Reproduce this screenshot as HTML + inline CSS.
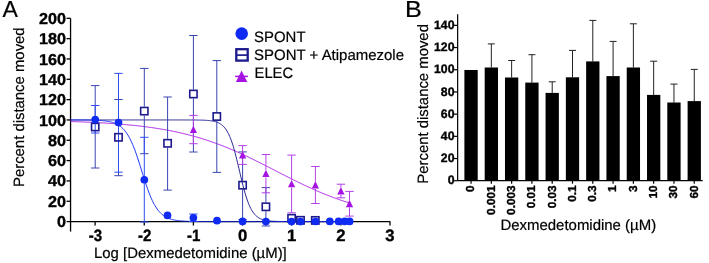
<!DOCTYPE html>
<html><head><meta charset="utf-8"><style>html,body{margin:0;padding:0;background:#fff;width:709px;height:263px;overflow:hidden;position:relative}</style></head>
<body>
<svg width="709" height="263" viewBox="0 0 709 263" style="position:absolute;left:0;top:0;will-change:transform" text-rendering="geometricPrecision">
<rect width="709" height="263" fill="#fff"/>
<text transform="translate(2.60,17.10) scale(0.995,1)" text-anchor="start" font-family="Liberation Sans, sans-serif" stroke="#000" stroke-width="0.2" stroke-linejoin="round" font-size="23.2" fill="#000">A</text>
<text transform="translate(405.10,17.00) scale(1.09,1)" text-anchor="start" font-family="Liberation Sans, sans-serif" stroke="#000" stroke-width="0.2" stroke-linejoin="round" font-size="23.1" fill="#000">B</text>
<text transform="translate(24.10,107.20) rotate(-90) scale(0.992,1)" text-anchor="middle" font-family="Liberation Sans, sans-serif" stroke="#000" stroke-width="0.2" stroke-linejoin="round" font-size="15" fill="#000">Percent distance moved</text>
<text transform="translate(427.50,103.90) rotate(-90) scale(0.992,1)" text-anchor="middle" font-family="Liberation Sans, sans-serif" stroke="#000" stroke-width="0.2" stroke-linejoin="round" font-size="15" fill="#000">Percent distance moved</text>
<text transform="translate(94.00,257.60) scale(0.995,1)" text-anchor="start" font-family="Liberation Sans, sans-serif" stroke="#000" stroke-width="0.2" stroke-linejoin="round" font-size="15" fill="#000">Log [Dexmedetomidine (µM)]</text>
<text transform="translate(500.40,229.90) scale(0.997,1)" text-anchor="start" font-family="Liberation Sans, sans-serif" stroke="#000" stroke-width="0.2" stroke-linejoin="round" font-size="15" fill="#000">Dexmedetomidine (µM)</text>
<g stroke="#000" stroke-width="1.3" fill="none">
<line x1="70.55" y1="18.3" x2="70.55" y2="231.6"/>
<line x1="70.55" y1="221.6" x2="390.2" y2="221.6"/>
<line x1="66.55" y1="221.60" x2="70.55" y2="221.60"/>
<line x1="66.55" y1="201.27" x2="70.55" y2="201.27"/>
<line x1="66.55" y1="180.94" x2="70.55" y2="180.94"/>
<line x1="66.55" y1="160.61" x2="70.55" y2="160.61"/>
<line x1="66.55" y1="140.28" x2="70.55" y2="140.28"/>
<line x1="66.55" y1="119.95" x2="70.55" y2="119.95"/>
<line x1="66.55" y1="99.62" x2="70.55" y2="99.62"/>
<line x1="66.55" y1="79.29" x2="70.55" y2="79.29"/>
<line x1="66.55" y1="58.96" x2="70.55" y2="58.96"/>
<line x1="66.55" y1="38.63" x2="70.55" y2="38.63"/>
<line x1="66.55" y1="18.30" x2="70.55" y2="18.30"/>
<line x1="95.10" y1="221.6" x2="95.10" y2="225.6"/>
<line x1="144.25" y1="221.6" x2="144.25" y2="225.6"/>
<line x1="193.40" y1="221.6" x2="193.40" y2="225.6"/>
<line x1="242.55" y1="221.6" x2="242.55" y2="225.6"/>
<line x1="291.70" y1="221.6" x2="291.70" y2="225.6"/>
<line x1="340.85" y1="221.6" x2="340.85" y2="225.6"/>
<line x1="390.00" y1="221.6" x2="390.00" y2="225.6"/>
</g>
<polyline points="70.55,121.53 71.25,121.55 71.95,121.57 72.65,121.59 73.34,121.62 74.04,121.64 74.74,121.66 75.44,121.69 76.14,121.71 76.84,121.74 77.53,121.76 78.23,121.79 78.93,121.81 79.63,121.84 80.33,121.87 81.03,121.89 81.72,121.92 82.42,121.95 83.12,121.97 83.82,122.00 84.52,122.03 85.22,122.06 85.91,122.09 86.61,122.12 87.31,122.15 88.01,122.18 88.71,122.21 89.41,122.24 90.10,122.27 90.80,122.31 91.50,122.34 92.20,122.37 92.90,122.41 93.60,122.44 94.29,122.48 94.99,122.51 95.69,122.55 96.39,122.58 97.09,122.62 97.79,122.66 98.49,122.69 99.18,122.73 99.88,122.77 100.58,122.81 101.28,122.85 101.98,122.89 102.68,122.93 103.37,122.97 104.07,123.01 104.77,123.05 105.47,123.10 106.17,123.14 106.87,123.18 107.56,123.23 108.26,123.27 108.96,123.32 109.66,123.37 110.36,123.41 111.06,123.46 111.75,123.51 112.45,123.56 113.15,123.61 113.85,123.66 114.55,123.71 115.25,123.76 115.94,123.81 116.64,123.86 117.34,123.92 118.04,123.97 118.74,124.03 119.44,124.08 120.13,124.14 120.83,124.20 121.53,124.25 122.23,124.31 122.93,124.37 123.63,124.43 124.32,124.49 125.02,124.56 125.72,124.62 126.42,124.68 127.12,124.75 127.82,124.81 128.52,124.88 129.21,124.94 129.91,125.01 130.61,125.08 131.31,125.15 132.01,125.22 132.71,125.29 133.40,125.36 134.10,125.43 134.80,125.51 135.50,125.58 136.20,125.66 136.90,125.73 137.59,125.81 138.29,125.89 138.99,125.97 139.69,126.05 140.39,126.13 141.09,126.22 141.78,126.30 142.48,126.38 143.18,126.47 143.88,126.56 144.58,126.64 145.28,126.73 145.97,126.82 146.67,126.91 147.37,127.01 148.07,127.10 148.77,127.19 149.47,127.29 150.16,127.39 150.86,127.48 151.56,127.58 152.26,127.68 152.96,127.79 153.66,127.89 154.36,127.99 155.05,128.10 155.75,128.20 156.45,128.31 157.15,128.42 157.85,128.53 158.55,128.64 159.24,128.76 159.94,128.87 160.64,128.99 161.34,129.10 162.04,129.22 162.74,129.34 163.43,129.46 164.13,129.59 164.83,129.71 165.53,129.83 166.23,129.96 166.93,130.09 167.62,130.22 168.32,130.35 169.02,130.48 169.72,130.62 170.42,130.75 171.12,130.89 171.81,131.03 172.51,131.17 173.21,131.31 173.91,131.46 174.61,131.60 175.31,131.75 176.00,131.89 176.70,132.04 177.40,132.20 178.10,132.35 178.80,132.50 179.50,132.66 180.19,132.82 180.89,132.98 181.59,133.14 182.29,133.30 182.99,133.47 183.69,133.63 184.39,133.80 185.08,133.97 185.78,134.14 186.48,134.32 187.18,134.49 187.88,134.67 188.58,134.85 189.27,135.03 189.97,135.21 190.67,135.40 191.37,135.58 192.07,135.77 192.77,135.96 193.46,136.15 194.16,136.34 194.86,136.54 195.56,136.74 196.26,136.94 196.96,137.14 197.65,137.34 198.35,137.54 199.05,137.75 199.75,137.96 200.45,138.17 201.15,138.38 201.84,138.60 202.54,138.81 203.24,139.03 203.94,139.25 204.64,139.47 205.34,139.70 206.03,139.92 206.73,140.15 207.43,140.38 208.13,140.61 208.83,140.84 209.53,141.08 210.22,141.32 210.92,141.56 211.62,141.80 212.32,142.04 213.02,142.29 213.72,142.54 214.42,142.78 215.11,143.04 215.81,143.29 216.51,143.54 217.21,143.80 217.91,144.06 218.61,144.32 219.30,144.58 220.00,144.85 220.70,145.11 221.40,145.38 222.10,145.65 222.80,145.93 223.49,146.20 224.19,146.48 224.89,146.75 225.59,147.03 226.29,147.32 226.99,147.60 227.68,147.89 228.38,148.17 229.08,148.46 229.78,148.75 230.48,149.05 231.18,149.34 231.87,149.64 232.57,149.93 233.27,150.23 233.97,150.53 234.67,150.84 235.37,151.14 236.06,151.45 236.76,151.76 237.46,152.07 238.16,152.38 238.86,152.69 239.56,153.01 240.26,153.32 240.95,153.64 241.65,153.96 242.35,154.28 243.05,154.60 243.75,154.92 244.45,155.25 245.14,155.58 245.84,155.90 246.54,156.23 247.24,156.56 247.94,156.89 248.64,157.23 249.33,157.56 250.03,157.90 250.73,158.23 251.43,158.57 252.13,158.91 252.83,159.25 253.52,159.59 254.22,159.94 254.92,160.28 255.62,160.62 256.32,160.97 257.02,161.31 257.71,161.66 258.41,162.01 259.11,162.36 259.81,162.71 260.51,163.06 261.21,163.41 261.90,163.76 262.60,164.11 263.30,164.47 264.00,164.82 264.70,165.18 265.40,165.53 266.09,165.89 266.79,166.24 267.49,166.60 268.19,166.96 268.89,167.31 269.59,167.67 270.29,168.03 270.98,168.39 271.68,168.75 272.38,169.11 273.08,169.46 273.78,169.82 274.48,170.18 275.17,170.54 275.87,170.90 276.57,171.26 277.27,171.62 277.97,171.98 278.67,172.34 279.36,172.70 280.06,173.05 280.76,173.41 281.46,173.77 282.16,174.13 282.86,174.49 283.55,174.84 284.25,175.20 284.95,175.56 285.65,175.91 286.35,176.27 287.05,176.62 287.74,176.98 288.44,177.33 289.14,177.68 289.84,178.03 290.54,178.39 291.24,178.74 291.93,179.09 292.63,179.44 293.33,179.78 294.03,180.13 294.73,180.48 295.43,180.82 296.13,181.17 296.82,181.51 297.52,181.85 298.22,182.20 298.92,182.54 299.62,182.88 300.32,183.21 301.01,183.55 301.71,183.89 302.41,184.22 303.11,184.56 303.81,184.89 304.51,185.22 305.20,185.55 305.90,185.88 306.60,186.20 307.30,186.53 308.00,186.85 308.70,187.17 309.39,187.50 310.09,187.82 310.79,188.13 311.49,188.45 312.19,188.76 312.89,189.08 313.58,189.39 314.28,189.70 314.98,190.01 315.68,190.32 316.38,190.62 317.08,190.92 317.77,191.23 318.47,191.53 319.17,191.82 319.87,192.12 320.57,192.42 321.27,192.71 321.96,193.00 322.66,193.29 323.36,193.58 324.06,193.86 324.76,194.15 325.46,194.43 326.16,194.71 326.85,194.99 327.55,195.27 328.25,195.54 328.95,195.81 329.65,196.09 330.35,196.35 331.04,196.62 331.74,196.89 332.44,197.15 333.14,197.41 333.84,197.67 334.54,197.93 335.23,198.18 335.93,198.44 336.63,198.69 337.33,198.94 338.03,199.19 338.73,199.43 339.42,199.68 340.12,199.92 340.82,200.16 341.52,200.40 342.22,200.63 342.92,200.87 343.61,201.10 344.31,201.33 345.01,201.56 345.71,201.79 346.41,202.01 347.11,202.23 347.80,202.45 348.50,202.67 349.20,202.89 349.90,203.10" fill="none" stroke="#a514e3" stroke-width="0.95"/>
<polyline points="70.55,119.95 71.25,119.95 71.95,119.95 72.65,119.95 73.34,119.95 74.04,119.95 74.74,119.95 75.44,119.95 76.14,119.95 76.84,119.95 77.53,119.95 78.23,119.95 78.93,119.95 79.63,119.95 80.33,119.95 81.03,119.95 81.72,119.95 82.42,119.95 83.12,119.95 83.82,119.95 84.52,119.95 85.22,119.95 85.91,119.95 86.61,119.95 87.31,119.95 88.01,119.95 88.71,119.95 89.41,119.95 90.10,119.95 90.80,119.95 91.50,119.95 92.20,119.95 92.90,119.95 93.60,119.95 94.29,119.95 94.99,119.95 95.69,119.95 96.39,119.95 97.09,119.95 97.79,119.95 98.49,119.95 99.18,119.95 99.88,119.95 100.58,119.95 101.28,119.95 101.98,119.95 102.68,119.95 103.37,119.95 104.07,119.95 104.77,119.95 105.47,119.95 106.17,119.95 106.87,119.95 107.56,119.95 108.26,119.95 108.96,119.95 109.66,119.95 110.36,119.95 111.06,119.95 111.75,119.95 112.45,119.95 113.15,119.95 113.85,119.95 114.55,119.95 115.25,119.95 115.94,119.95 116.64,119.95 117.34,119.95 118.04,119.95 118.74,119.95 119.44,119.95 120.13,119.95 120.83,119.95 121.53,119.95 122.23,119.95 122.93,119.95 123.63,119.95 124.32,119.95 125.02,119.95 125.72,119.95 126.42,119.95 127.12,119.95 127.82,119.95 128.52,119.95 129.21,119.95 129.91,119.95 130.61,119.95 131.31,119.95 132.01,119.95 132.71,119.95 133.40,119.95 134.10,119.95 134.80,119.95 135.50,119.95 136.20,119.95 136.90,119.95 137.59,119.95 138.29,119.95 138.99,119.95 139.69,119.95 140.39,119.95 141.09,119.95 141.78,119.95 142.48,119.95 143.18,119.95 143.88,119.95 144.58,119.95 145.28,119.95 145.97,119.95 146.67,119.95 147.37,119.95 148.07,119.95 148.77,119.95 149.47,119.95 150.16,119.95 150.86,119.95 151.56,119.95 152.26,119.95 152.96,119.95 153.66,119.95 154.36,119.95 155.05,119.95 155.75,119.95 156.45,119.95 157.15,119.95 157.85,119.95 158.55,119.95 159.24,119.95 159.94,119.95 160.64,119.95 161.34,119.95 162.04,119.95 162.74,119.95 163.43,119.95 164.13,119.95 164.83,119.95 165.53,119.95 166.23,119.95 166.93,119.95 167.62,119.95 168.32,119.95 169.02,119.95 169.72,119.95 170.42,119.95 171.12,119.95 171.81,119.95 172.51,119.95 173.21,119.95 173.91,119.95 174.61,119.95 175.31,119.95 176.00,119.95 176.70,119.95 177.40,119.95 178.10,119.95 178.80,119.95 179.50,119.95 180.19,119.95 180.89,119.96 181.59,119.96 182.29,119.96 182.99,119.96 183.69,119.96 184.39,119.96 185.08,119.96 185.78,119.96 186.48,119.96 187.18,119.97 187.88,119.97 188.58,119.97 189.27,119.97 189.97,119.97 190.67,119.98 191.37,119.98 192.07,119.98 192.77,119.99 193.46,119.99 194.16,120.00 194.86,120.01 195.56,120.01 196.26,120.02 196.96,120.03 197.65,120.04 198.35,120.05 199.05,120.06 199.75,120.08 200.45,120.09 201.15,120.11 201.84,120.13 202.54,120.15 203.24,120.18 203.94,120.20 204.64,120.24 205.34,120.27 206.03,120.31 206.73,120.36 207.43,120.41 208.13,120.46 208.83,120.53 209.53,120.60 210.22,120.68 210.92,120.77 211.62,120.87 212.32,120.99 213.02,121.11 213.72,121.26 214.42,121.42 215.11,121.60 215.81,121.80 216.51,122.03 217.21,122.28 217.91,122.57 218.61,122.88 219.30,123.24 220.00,123.63 220.70,124.08 221.40,124.57 222.10,125.12 222.80,125.73 223.49,126.40 224.19,127.15 224.89,127.98 225.59,128.90 226.29,129.90 226.99,131.01 227.68,132.23 228.38,133.56 229.08,135.01 229.78,136.58 230.48,138.29 231.18,140.12 231.87,142.09 232.57,144.20 233.27,146.44 233.97,148.82 234.67,151.31 235.37,153.92 236.06,156.63 236.76,159.44 237.46,162.32 238.16,165.25 238.86,168.23 239.56,171.22 240.26,174.21 240.95,177.17 241.65,180.09 242.35,182.95 243.05,185.73 243.75,188.41 244.45,190.99 245.14,193.45 245.84,195.78 246.54,197.98 247.24,200.05 247.94,201.98 248.64,203.78 249.33,205.45 250.03,206.98 250.73,208.40 251.43,209.69 252.13,210.88 252.83,211.95 253.52,212.93 254.22,213.82 254.92,214.63 255.62,215.36 256.32,216.01 257.02,216.60 257.71,217.13 258.41,217.61 259.11,218.04 259.81,218.42 260.51,218.76 261.21,219.07 261.90,219.35 262.60,219.59 263.30,219.81 264.00,220.01 264.70,220.18 265.40,220.34 266.09,220.48 266.79,220.60 267.49,220.71 268.19,220.81 268.89,220.90 269.59,220.97 270.29,221.04 270.98,221.10 271.68,221.16 272.38,221.21 273.08,221.25 273.78,221.29 274.48,221.32 275.17,221.35 275.87,221.38 276.57,221.41 277.27,221.43 277.97,221.45 278.67,221.46 279.36,221.48 280.06,221.49 280.76,221.50 281.46,221.51 282.16,221.52 282.86,221.53 283.55,221.54 284.25,221.55 284.95,221.55 285.65,221.56 286.35,221.56 287.05,221.57 287.74,221.57 288.44,221.57 289.14,221.58 289.84,221.58 290.54,221.58 291.24,221.58 291.93,221.59 292.63,221.59 293.33,221.59 294.03,221.59 294.73,221.59 295.43,221.59 296.13,221.59 296.82,221.59 297.52,221.59 298.22,221.59 298.92,221.60 299.62,221.60 300.32,221.60 301.01,221.60 301.71,221.60 302.41,221.60 303.11,221.60 303.81,221.60 304.51,221.60 305.20,221.60 305.90,221.60 306.60,221.60 307.30,221.60 308.00,221.60 308.70,221.60 309.39,221.60 310.09,221.60 310.79,221.60 311.49,221.60 312.19,221.60 312.89,221.60 313.58,221.60 314.28,221.60 314.98,221.60 315.68,221.60 316.38,221.60 317.08,221.60 317.77,221.60 318.47,221.60 319.17,221.60 319.87,221.60 320.57,221.60 321.27,221.60 321.96,221.60 322.66,221.60 323.36,221.60 324.06,221.60 324.76,221.60 325.46,221.60 326.16,221.60 326.85,221.60 327.55,221.60 328.25,221.60 328.95,221.60 329.65,221.60 330.35,221.60 331.04,221.60 331.74,221.60 332.44,221.60 333.14,221.60 333.84,221.60 334.54,221.60 335.23,221.60 335.93,221.60 336.63,221.60 337.33,221.60 338.03,221.60 338.73,221.60 339.42,221.60 340.12,221.60 340.82,221.60 341.52,221.60 342.22,221.60 342.92,221.60 343.61,221.60 344.31,221.60 345.01,221.60 345.71,221.60 346.41,221.60 347.11,221.60 347.80,221.60 348.50,221.60 349.20,221.60 349.90,221.60" fill="none" stroke="#1c1a8c" stroke-width="0.95"/>
<polyline points="70.55,119.96 71.25,119.96 71.95,119.96 72.65,119.97 73.34,119.97 74.04,119.97 74.74,119.97 75.44,119.97 76.14,119.98 76.84,119.98 77.53,119.98 78.23,119.98 78.93,119.99 79.63,119.99 80.33,119.99 81.03,120.00 81.72,120.00 82.42,120.01 83.12,120.01 83.82,120.02 84.52,120.02 85.22,120.03 85.91,120.04 86.61,120.05 87.31,120.05 88.01,120.06 88.71,120.07 89.41,120.09 90.10,120.10 90.80,120.11 91.50,120.13 92.20,120.14 92.90,120.16 93.60,120.18 94.29,120.20 94.99,120.23 95.69,120.25 96.39,120.28 97.09,120.31 97.79,120.34 98.49,120.38 99.18,120.42 99.88,120.46 100.58,120.51 101.28,120.56 101.98,120.61 102.68,120.68 103.37,120.74 104.07,120.81 104.77,120.89 105.47,120.98 106.17,121.07 106.87,121.18 107.56,121.29 108.26,121.41 108.96,121.54 109.66,121.69 110.36,121.84 111.06,122.02 111.75,122.20 112.45,122.41 113.15,122.63 113.85,122.87 114.55,123.13 115.25,123.41 115.94,123.72 116.64,124.05 117.34,124.41 118.04,124.81 118.74,125.23 119.44,125.69 120.13,126.19 120.83,126.73 121.53,127.31 122.23,127.94 122.93,128.61 123.63,129.34 124.32,130.12 125.02,130.95 125.72,131.85 126.42,132.81 127.12,133.84 127.82,134.93 128.52,136.09 129.21,137.33 129.91,138.64 130.61,140.03 131.31,141.49 132.01,143.02 132.71,144.64 133.40,146.33 134.10,148.09 134.80,149.92 135.50,151.82 136.20,153.78 136.90,155.81 137.59,157.88 138.29,160.01 138.99,162.17 139.69,164.36 140.39,166.58 141.09,168.82 141.78,171.06 142.48,173.31 143.18,175.54 143.88,177.75 144.58,179.94 145.28,182.10 145.97,184.21 146.67,186.27 147.37,188.28 148.07,190.23 148.77,192.11 149.47,193.92 150.16,195.67 150.86,197.34 151.56,198.93 152.26,200.45 152.96,201.89 153.66,203.25 154.36,204.55 155.05,205.76 155.75,206.91 156.45,207.98 157.15,208.99 157.85,209.94 158.55,210.82 159.24,211.64 159.94,212.41 160.64,213.12 161.34,213.78 162.04,214.39 162.74,214.96 163.43,215.49 164.13,215.98 164.83,216.43 165.53,216.85 166.23,217.23 166.93,217.59 167.62,217.91 168.32,218.21 169.02,218.49 169.72,218.75 170.42,218.98 171.12,219.20 171.81,219.40 172.51,219.58 173.21,219.75 173.91,219.90 174.61,220.04 175.31,220.17 176.00,220.29 176.70,220.40 177.40,220.50 178.10,220.59 178.80,220.68 179.50,220.76 180.19,220.83 180.89,220.89 181.59,220.95 182.29,221.01 182.99,221.06 183.69,221.10 184.39,221.14 185.08,221.18 185.78,221.22 186.48,221.25 187.18,221.28 187.88,221.31 188.58,221.33 189.27,221.35 189.97,221.37 190.67,221.39 191.37,221.41 192.07,221.43 192.77,221.44 193.46,221.45 194.16,221.47 194.86,221.48 195.56,221.49 196.26,221.50 196.96,221.51 197.65,221.51 198.35,221.52 199.05,221.53 199.75,221.53 200.45,221.54 201.15,221.54 201.84,221.55 202.54,221.55 203.24,221.56 203.94,221.56 204.64,221.56 205.34,221.57 206.03,221.57 206.73,221.57 207.43,221.58 208.13,221.58 208.83,221.58 209.53,221.58 210.22,221.58 210.92,221.58 211.62,221.59 212.32,221.59 213.02,221.59 213.72,221.59 214.42,221.59 215.11,221.59 215.81,221.59 216.51,221.59 217.21,221.59 217.91,221.59 218.61,221.59 219.30,221.59 220.00,221.59 220.70,221.60 221.40,221.60 222.10,221.60 222.80,221.60 223.49,221.60 224.19,221.60 224.89,221.60 225.59,221.60 226.29,221.60 226.99,221.60 227.68,221.60 228.38,221.60 229.08,221.60 229.78,221.60 230.48,221.60 231.18,221.60 231.87,221.60 232.57,221.60 233.27,221.60 233.97,221.60 234.67,221.60 235.37,221.60 236.06,221.60 236.76,221.60 237.46,221.60 238.16,221.60 238.86,221.60 239.56,221.60 240.26,221.60 240.95,221.60 241.65,221.60 242.35,221.60 243.05,221.60 243.75,221.60 244.45,221.60 245.14,221.60 245.84,221.60 246.54,221.60 247.24,221.60 247.94,221.60 248.64,221.60 249.33,221.60 250.03,221.60 250.73,221.60 251.43,221.60 252.13,221.60 252.83,221.60 253.52,221.60 254.22,221.60 254.92,221.60 255.62,221.60 256.32,221.60 257.02,221.60 257.71,221.60 258.41,221.60 259.11,221.60 259.81,221.60 260.51,221.60 261.21,221.60 261.90,221.60 262.60,221.60 263.30,221.60 264.00,221.60 264.70,221.60 265.40,221.60 266.09,221.60 266.79,221.60 267.49,221.60 268.19,221.60 268.89,221.60 269.59,221.60 270.29,221.60 270.98,221.60 271.68,221.60 272.38,221.60 273.08,221.60 273.78,221.60 274.48,221.60 275.17,221.60 275.87,221.60 276.57,221.60 277.27,221.60 277.97,221.60 278.67,221.60 279.36,221.60 280.06,221.60 280.76,221.60 281.46,221.60 282.16,221.60 282.86,221.60 283.55,221.60 284.25,221.60 284.95,221.60 285.65,221.60 286.35,221.60 287.05,221.60 287.74,221.60 288.44,221.60 289.14,221.60 289.84,221.60 290.54,221.60 291.24,221.60 291.93,221.60 292.63,221.60 293.33,221.60 294.03,221.60 294.73,221.60 295.43,221.60 296.13,221.60 296.82,221.60 297.52,221.60 298.22,221.60 298.92,221.60 299.62,221.60 300.32,221.60 301.01,221.60 301.71,221.60 302.41,221.60 303.11,221.60 303.81,221.60 304.51,221.60 305.20,221.60 305.90,221.60 306.60,221.60 307.30,221.60 308.00,221.60 308.70,221.60 309.39,221.60 310.09,221.60 310.79,221.60 311.49,221.60 312.19,221.60 312.89,221.60 313.58,221.60 314.28,221.60 314.98,221.60 315.68,221.60 316.38,221.60 317.08,221.60 317.77,221.60 318.47,221.60 319.17,221.60 319.87,221.60 320.57,221.60 321.27,221.60 321.96,221.60 322.66,221.60 323.36,221.60 324.06,221.60 324.76,221.60 325.46,221.60 326.16,221.60 326.85,221.60 327.55,221.60 328.25,221.60 328.95,221.60 329.65,221.60 330.35,221.60 331.04,221.60 331.74,221.60 332.44,221.60 333.14,221.60 333.84,221.60 334.54,221.60 335.23,221.60 335.93,221.60 336.63,221.60 337.33,221.60 338.03,221.60 338.73,221.60 339.42,221.60 340.12,221.60 340.82,221.60 341.52,221.60 342.22,221.60 342.92,221.60 343.61,221.60 344.31,221.60 345.01,221.60 345.71,221.60 346.41,221.60 347.11,221.60 347.80,221.60 348.50,221.60 349.20,221.60 349.90,221.60" fill="none" stroke="#0f2af2" stroke-width="0.95"/>
<text transform="translate(66.00,227.15) scale(1.023,1)" text-anchor="end" font-family="Liberation Sans, sans-serif" font-weight="bold" stroke="#000" stroke-width="0.35" stroke-linejoin="round" font-size="15.8" fill="#000">0</text>
<text transform="translate(66.00,206.82) scale(1.023,1)" text-anchor="end" font-family="Liberation Sans, sans-serif" font-weight="bold" stroke="#000" stroke-width="0.35" stroke-linejoin="round" font-size="15.8" fill="#000">20</text>
<text transform="translate(66.00,186.49) scale(1.023,1)" text-anchor="end" font-family="Liberation Sans, sans-serif" font-weight="bold" stroke="#000" stroke-width="0.35" stroke-linejoin="round" font-size="15.8" fill="#000">40</text>
<text transform="translate(66.00,166.16) scale(1.023,1)" text-anchor="end" font-family="Liberation Sans, sans-serif" font-weight="bold" stroke="#000" stroke-width="0.35" stroke-linejoin="round" font-size="15.8" fill="#000">60</text>
<text transform="translate(66.00,145.83) scale(1.023,1)" text-anchor="end" font-family="Liberation Sans, sans-serif" font-weight="bold" stroke="#000" stroke-width="0.35" stroke-linejoin="round" font-size="15.8" fill="#000">80</text>
<text transform="translate(66.00,125.50) scale(1.023,1)" text-anchor="end" font-family="Liberation Sans, sans-serif" font-weight="bold" stroke="#000" stroke-width="0.35" stroke-linejoin="round" font-size="15.8" fill="#000">100</text>
<text transform="translate(66.00,105.17) scale(1.023,1)" text-anchor="end" font-family="Liberation Sans, sans-serif" font-weight="bold" stroke="#000" stroke-width="0.35" stroke-linejoin="round" font-size="15.8" fill="#000">120</text>
<text transform="translate(66.00,84.84) scale(1.023,1)" text-anchor="end" font-family="Liberation Sans, sans-serif" font-weight="bold" stroke="#000" stroke-width="0.35" stroke-linejoin="round" font-size="15.8" fill="#000">140</text>
<text transform="translate(66.00,64.51) scale(1.023,1)" text-anchor="end" font-family="Liberation Sans, sans-serif" font-weight="bold" stroke="#000" stroke-width="0.35" stroke-linejoin="round" font-size="15.8" fill="#000">160</text>
<text transform="translate(66.00,44.18) scale(1.023,1)" text-anchor="end" font-family="Liberation Sans, sans-serif" font-weight="bold" stroke="#000" stroke-width="0.35" stroke-linejoin="round" font-size="15.8" fill="#000">180</text>
<text transform="translate(66.00,23.85) scale(1.023,1)" text-anchor="end" font-family="Liberation Sans, sans-serif" font-weight="bold" stroke="#000" stroke-width="0.35" stroke-linejoin="round" font-size="15.8" fill="#000">200</text>
<text transform="translate(95.45,240.55) scale(0.91,1)" text-anchor="middle" font-family="Liberation Sans, sans-serif" font-weight="bold" stroke="#000" stroke-width="0.35" stroke-linejoin="round" font-size="16.5" fill="#000">-3</text>
<text transform="translate(144.60,240.55) scale(0.91,1)" text-anchor="middle" font-family="Liberation Sans, sans-serif" font-weight="bold" stroke="#000" stroke-width="0.35" stroke-linejoin="round" font-size="16.5" fill="#000">-2</text>
<text transform="translate(193.75,240.55) scale(0.91,1)" text-anchor="middle" font-family="Liberation Sans, sans-serif" font-weight="bold" stroke="#000" stroke-width="0.35" stroke-linejoin="round" font-size="16.5" fill="#000">-1</text>
<text transform="translate(242.55,240.70) scale(1.01,1)" text-anchor="middle" font-family="Liberation Sans, sans-serif" font-weight="bold" stroke="#000" stroke-width="0.35" stroke-linejoin="round" font-size="16.5" fill="#000">0</text>
<text transform="translate(291.70,240.70) scale(1.01,1)" text-anchor="middle" font-family="Liberation Sans, sans-serif" font-weight="bold" stroke="#000" stroke-width="0.35" stroke-linejoin="round" font-size="16.5" fill="#000">1</text>
<text transform="translate(340.85,240.70) scale(1.01,1)" text-anchor="middle" font-family="Liberation Sans, sans-serif" font-weight="bold" stroke="#000" stroke-width="0.35" stroke-linejoin="round" font-size="16.5" fill="#000">2</text>
<text transform="translate(390.00,240.70) scale(1.01,1)" text-anchor="middle" font-family="Liberation Sans, sans-serif" font-weight="bold" stroke="#000" stroke-width="0.35" stroke-linejoin="round" font-size="16.5" fill="#000">3</text>
<line x1="95.20" y1="85.60" x2="95.20" y2="122.60" stroke="#3a44b0" stroke-width="1.0"/>
<line x1="95.20" y1="131.40" x2="95.20" y2="168.00" stroke="#3a44b0" stroke-width="1.0"/>
<line x1="91.00" y1="85.60" x2="99.40" y2="85.60" stroke="#3a44b0" stroke-width="1.0"/>
<line x1="91.00" y1="168.00" x2="99.40" y2="168.00" stroke="#3a44b0" stroke-width="1.0"/>
<line x1="118.50" y1="99.50" x2="118.50" y2="132.90" stroke="#3a44b0" stroke-width="1.0"/>
<line x1="118.50" y1="141.70" x2="118.50" y2="175.70" stroke="#3a44b0" stroke-width="1.0"/>
<line x1="114.30" y1="99.50" x2="122.70" y2="99.50" stroke="#3a44b0" stroke-width="1.0"/>
<line x1="114.30" y1="175.70" x2="122.70" y2="175.70" stroke="#3a44b0" stroke-width="1.0"/>
<line x1="144.30" y1="68.40" x2="144.30" y2="106.70" stroke="#3a44b0" stroke-width="1.0"/>
<line x1="144.30" y1="115.50" x2="144.30" y2="153.70" stroke="#3a44b0" stroke-width="1.0"/>
<line x1="140.10" y1="68.40" x2="148.50" y2="68.40" stroke="#3a44b0" stroke-width="1.0"/>
<line x1="140.10" y1="153.70" x2="148.50" y2="153.70" stroke="#3a44b0" stroke-width="1.0"/>
<line x1="167.60" y1="97.00" x2="167.60" y2="138.90" stroke="#3a44b0" stroke-width="1.0"/>
<line x1="167.60" y1="147.70" x2="167.60" y2="190.10" stroke="#3a44b0" stroke-width="1.0"/>
<line x1="163.40" y1="97.00" x2="171.80" y2="97.00" stroke="#3a44b0" stroke-width="1.0"/>
<line x1="163.40" y1="190.10" x2="171.80" y2="190.10" stroke="#3a44b0" stroke-width="1.0"/>
<line x1="193.40" y1="35.50" x2="193.40" y2="89.60" stroke="#3a44b0" stroke-width="1.0"/>
<line x1="193.40" y1="98.40" x2="193.40" y2="152.00" stroke="#3a44b0" stroke-width="1.0"/>
<line x1="189.20" y1="35.50" x2="197.60" y2="35.50" stroke="#3a44b0" stroke-width="1.0"/>
<line x1="189.20" y1="152.00" x2="197.60" y2="152.00" stroke="#3a44b0" stroke-width="1.0"/>
<line x1="216.80" y1="60.60" x2="216.80" y2="112.10" stroke="#3a44b0" stroke-width="1.0"/>
<line x1="216.80" y1="120.90" x2="216.80" y2="172.40" stroke="#3a44b0" stroke-width="1.0"/>
<line x1="212.60" y1="60.60" x2="221.00" y2="60.60" stroke="#3a44b0" stroke-width="1.0"/>
<line x1="212.60" y1="172.40" x2="221.00" y2="172.40" stroke="#3a44b0" stroke-width="1.0"/>
<line x1="242.60" y1="151.90" x2="242.60" y2="180.80" stroke="#3a44b0" stroke-width="1.0"/>
<line x1="242.60" y1="189.60" x2="242.60" y2="219.60" stroke="#3a44b0" stroke-width="1.0"/>
<line x1="238.40" y1="151.90" x2="246.80" y2="151.90" stroke="#3a44b0" stroke-width="1.0"/>
<line x1="238.40" y1="219.60" x2="246.80" y2="219.60" stroke="#3a44b0" stroke-width="1.0"/>
<line x1="265.90" y1="187.60" x2="265.90" y2="202.40" stroke="#3a44b0" stroke-width="1.0"/>
<line x1="265.90" y1="211.20" x2="265.90" y2="226.00" stroke="#3a44b0" stroke-width="1.0"/>
<line x1="261.70" y1="187.60" x2="270.10" y2="187.60" stroke="#3a44b0" stroke-width="1.0"/>
<line x1="261.70" y1="226.00" x2="270.10" y2="226.00" stroke="#3a44b0" stroke-width="1.0"/>
<line x1="95.20" y1="105.50" x2="95.20" y2="115.65" stroke="#2f4ff5" stroke-width="1.0"/>
<line x1="95.20" y1="123.35" x2="95.20" y2="133.00" stroke="#2f4ff5" stroke-width="1.0"/>
<line x1="91.00" y1="105.50" x2="99.40" y2="105.50" stroke="#2f4ff5" stroke-width="1.0"/>
<line x1="91.00" y1="133.00" x2="99.40" y2="133.00" stroke="#2f4ff5" stroke-width="1.0"/>
<line x1="118.50" y1="73.40" x2="118.50" y2="118.75" stroke="#2f4ff5" stroke-width="1.0"/>
<line x1="118.50" y1="126.45" x2="118.50" y2="172.20" stroke="#2f4ff5" stroke-width="1.0"/>
<line x1="114.30" y1="73.40" x2="122.70" y2="73.40" stroke="#2f4ff5" stroke-width="1.0"/>
<line x1="114.30" y1="172.20" x2="122.70" y2="172.20" stroke="#2f4ff5" stroke-width="1.0"/>
<line x1="144.30" y1="137.30" x2="144.30" y2="175.95" stroke="#2f4ff5" stroke-width="1.0"/>
<line x1="144.30" y1="183.65" x2="144.30" y2="222.00" stroke="#2f4ff5" stroke-width="1.0"/>
<line x1="140.10" y1="137.30" x2="148.50" y2="137.30" stroke="#2f4ff5" stroke-width="1.0"/>
<line x1="140.10" y1="222.00" x2="148.50" y2="222.00" stroke="#2f4ff5" stroke-width="1.0"/>
<line x1="189.20" y1="214.00" x2="197.60" y2="214.00" stroke="#2f4ff5" stroke-width="1.0"/>
<line x1="189.20" y1="221.60" x2="197.60" y2="221.60" stroke="#2f4ff5" stroke-width="1.0"/>
<line x1="193.40" y1="115.40" x2="193.40" y2="125.85" stroke="#b340e8" stroke-width="1.0"/>
<line x1="193.40" y1="133.25" x2="193.40" y2="143.70" stroke="#b340e8" stroke-width="1.0"/>
<line x1="189.20" y1="115.40" x2="197.60" y2="115.40" stroke="#b340e8" stroke-width="1.0"/>
<line x1="189.20" y1="143.70" x2="197.60" y2="143.70" stroke="#b340e8" stroke-width="1.0"/>
<line x1="242.60" y1="145.60" x2="242.60" y2="151.30" stroke="#b340e8" stroke-width="1.0"/>
<line x1="242.60" y1="158.70" x2="242.60" y2="164.40" stroke="#b340e8" stroke-width="1.0"/>
<line x1="238.40" y1="145.60" x2="246.80" y2="145.60" stroke="#b340e8" stroke-width="1.0"/>
<line x1="238.40" y1="164.40" x2="246.80" y2="164.40" stroke="#b340e8" stroke-width="1.0"/>
<line x1="265.90" y1="154.50" x2="265.90" y2="169.95" stroke="#b340e8" stroke-width="1.0"/>
<line x1="265.90" y1="177.35" x2="265.90" y2="192.80" stroke="#b340e8" stroke-width="1.0"/>
<line x1="261.70" y1="154.50" x2="270.10" y2="154.50" stroke="#b340e8" stroke-width="1.0"/>
<line x1="261.70" y1="192.80" x2="270.10" y2="192.80" stroke="#b340e8" stroke-width="1.0"/>
<line x1="291.60" y1="155.10" x2="291.60" y2="180.25" stroke="#b340e8" stroke-width="1.0"/>
<line x1="291.60" y1="187.65" x2="291.60" y2="212.80" stroke="#b340e8" stroke-width="1.0"/>
<line x1="287.40" y1="155.10" x2="295.80" y2="155.10" stroke="#b340e8" stroke-width="1.0"/>
<line x1="287.40" y1="212.80" x2="295.80" y2="212.80" stroke="#b340e8" stroke-width="1.0"/>
<line x1="315.40" y1="166.50" x2="315.40" y2="181.30" stroke="#b340e8" stroke-width="1.0"/>
<line x1="315.40" y1="188.70" x2="315.40" y2="203.50" stroke="#b340e8" stroke-width="1.0"/>
<line x1="311.20" y1="166.50" x2="319.60" y2="166.50" stroke="#b340e8" stroke-width="1.0"/>
<line x1="311.20" y1="203.50" x2="319.60" y2="203.50" stroke="#b340e8" stroke-width="1.0"/>
<line x1="340.90" y1="184.20" x2="340.90" y2="187.30" stroke="#b340e8" stroke-width="1.0"/>
<line x1="340.90" y1="194.70" x2="340.90" y2="197.80" stroke="#b340e8" stroke-width="1.0"/>
<line x1="336.70" y1="184.20" x2="345.10" y2="184.20" stroke="#b340e8" stroke-width="1.0"/>
<line x1="336.70" y1="197.80" x2="345.10" y2="197.80" stroke="#b340e8" stroke-width="1.0"/>
<line x1="349.50" y1="191.40" x2="349.50" y2="200.05" stroke="#b340e8" stroke-width="1.0"/>
<line x1="349.50" y1="207.45" x2="349.50" y2="216.10" stroke="#b340e8" stroke-width="1.0"/>
<line x1="345.30" y1="191.40" x2="353.70" y2="191.40" stroke="#b340e8" stroke-width="1.0"/>
<line x1="345.30" y1="216.10" x2="353.70" y2="216.10" stroke="#b340e8" stroke-width="1.0"/>
<path d="M193.40,125.65 L197.00,132.95 L189.80,132.95 Z" fill="#a514e3"/>
<path d="M242.60,151.10 L246.20,158.40 L239.00,158.40 Z" fill="#a514e3"/>
<path d="M265.90,169.75 L269.50,177.05 L262.30,177.05 Z" fill="#a514e3"/>
<path d="M291.60,180.05 L295.20,187.35 L288.00,187.35 Z" fill="#a514e3"/>
<path d="M315.40,181.10 L319.00,188.40 L311.80,188.40 Z" fill="#a514e3"/>
<path d="M340.90,187.10 L344.50,194.40 L337.30,194.40 Z" fill="#a514e3"/>
<path d="M349.50,199.85 L353.10,207.15 L345.90,207.15 Z" fill="#a514e3"/>
<rect x="91.55" y="123.35" width="7.3" height="7.3" fill="none" stroke="#1c1a8c" stroke-width="1.6"/>
<rect x="114.85" y="133.65" width="7.3" height="7.3" fill="none" stroke="#1c1a8c" stroke-width="1.6"/>
<rect x="140.65" y="107.45" width="7.3" height="7.3" fill="none" stroke="#1c1a8c" stroke-width="1.6"/>
<rect x="163.95" y="139.65" width="7.3" height="7.3" fill="none" stroke="#1c1a8c" stroke-width="1.6"/>
<rect x="189.75" y="90.35" width="7.3" height="7.3" fill="none" stroke="#1c1a8c" stroke-width="1.6"/>
<rect x="213.15" y="112.85" width="7.3" height="7.3" fill="none" stroke="#1c1a8c" stroke-width="1.6"/>
<rect x="238.95" y="181.55" width="7.3" height="7.3" fill="none" stroke="#1c1a8c" stroke-width="1.6"/>
<rect x="262.25" y="203.15" width="7.3" height="7.3" fill="none" stroke="#1c1a8c" stroke-width="1.6"/>
<rect x="287.95" y="214.65" width="7.3" height="7.3" fill="none" stroke="#1c1a8c" stroke-width="1.6"/>
<rect x="296.85" y="216.65" width="7.3" height="7.3" fill="none" stroke="#1c1a8c" stroke-width="1.6"/>
<rect x="311.65" y="216.75" width="7.3" height="7.3" fill="none" stroke="#1c1a8c" stroke-width="1.6"/>
<circle cx="95.20" cy="119.50" r="3.85" fill="#0f2af2"/>
<circle cx="118.50" cy="122.60" r="3.85" fill="#0f2af2"/>
<circle cx="144.30" cy="179.80" r="3.85" fill="#0f2af2"/>
<circle cx="167.50" cy="215.40" r="3.85" fill="#0f2af2"/>
<circle cx="193.40" cy="217.80" r="3.85" fill="#0f2af2"/>
<circle cx="217.00" cy="220.70" r="3.85" fill="#0f2af2"/>
<circle cx="242.60" cy="221.40" r="3.85" fill="#0f2af2"/>
<circle cx="265.90" cy="221.60" r="3.85" fill="#0f2af2"/>
<circle cx="291.60" cy="221.60" r="3.85" fill="#0f2af2"/>
<circle cx="300.50" cy="221.60" r="3.85" fill="#0f2af2"/>
<circle cx="315.50" cy="221.50" r="3.85" fill="#0f2af2"/>
<circle cx="329.80" cy="221.40" r="3.85" fill="#0f2af2"/>
<circle cx="338.60" cy="221.40" r="3.85" fill="#0f2af2"/>
<circle cx="344.60" cy="221.40" r="3.85" fill="#0f2af2"/>
<circle cx="349.60" cy="221.40" r="3.85" fill="#0f2af2"/>
<circle cx="241.7" cy="33.6" r="6.3" fill="#0f2af2"/>
<rect x="236.3" y="49.2" width="11.4" height="11.4" fill="none" stroke="#1c1a8c" stroke-width="2.3"/>
<line x1="236" y1="55.1" x2="248" y2="55.1" stroke="#1c1a8c" stroke-width="1.7"/>
<path d="M241.6,70.4 L247.3,82 L235.9,82 Z" fill="#a514e3"/>
<line x1="235.1" y1="76.4" x2="247.9" y2="76.4" stroke="#a514e3" stroke-width="1.5"/>
<text transform="translate(254.10,41.80) scale(0.995,1)" text-anchor="start" font-family="Liberation Sans, sans-serif" stroke="#000" stroke-width="0.2" stroke-linejoin="round" font-size="15.0" fill="#000">SPONT</text>
<text transform="translate(254.10,60.20) scale(0.998,1)" text-anchor="start" font-family="Liberation Sans, sans-serif" stroke="#000" stroke-width="0.2" stroke-linejoin="round" font-size="15.0" fill="#000">SPONT + Atipamezole</text>
<text transform="translate(254.60,77.85) scale(0.98,1)" text-anchor="start" font-family="Liberation Sans, sans-serif" stroke="#000" stroke-width="0.2" stroke-linejoin="round" font-size="15.0" fill="#000">ELEC</text>
<g stroke="#000" stroke-width="1.2" fill="none">
<line x1="457.65" y1="14.2" x2="457.65" y2="180.7"/>
<line x1="457.65" y1="180.7" x2="702.7" y2="180.7"/>
<line x1="453.65" y1="180.75" x2="457.65" y2="180.75"/>
<line x1="453.65" y1="158.55" x2="457.65" y2="158.55"/>
<line x1="453.65" y1="136.35" x2="457.65" y2="136.35"/>
<line x1="453.65" y1="114.15" x2="457.65" y2="114.15"/>
<line x1="453.65" y1="91.95" x2="457.65" y2="91.95"/>
<line x1="453.65" y1="69.75" x2="457.65" y2="69.75"/>
<line x1="453.65" y1="47.55" x2="457.65" y2="47.55"/>
<line x1="453.65" y1="25.35" x2="457.65" y2="25.35"/>
</g>
<text transform="translate(454.50,184.35) scale(1.007,1)" text-anchor="end" font-family="Liberation Sans, sans-serif" font-weight="bold" stroke="#000" stroke-width="0.35" stroke-linejoin="round" font-size="12.17" fill="#000">0</text>
<text transform="translate(454.50,162.15) scale(1.007,1)" text-anchor="end" font-family="Liberation Sans, sans-serif" font-weight="bold" stroke="#000" stroke-width="0.35" stroke-linejoin="round" font-size="12.17" fill="#000">20</text>
<text transform="translate(454.50,139.95) scale(1.007,1)" text-anchor="end" font-family="Liberation Sans, sans-serif" font-weight="bold" stroke="#000" stroke-width="0.35" stroke-linejoin="round" font-size="12.17" fill="#000">40</text>
<text transform="translate(454.50,117.75) scale(1.007,1)" text-anchor="end" font-family="Liberation Sans, sans-serif" font-weight="bold" stroke="#000" stroke-width="0.35" stroke-linejoin="round" font-size="12.17" fill="#000">60</text>
<text transform="translate(454.50,95.55) scale(1.007,1)" text-anchor="end" font-family="Liberation Sans, sans-serif" font-weight="bold" stroke="#000" stroke-width="0.35" stroke-linejoin="round" font-size="12.17" fill="#000">80</text>
<text transform="translate(454.50,73.35) scale(1.007,1)" text-anchor="end" font-family="Liberation Sans, sans-serif" font-weight="bold" stroke="#000" stroke-width="0.35" stroke-linejoin="round" font-size="12.17" fill="#000">100</text>
<text transform="translate(454.50,51.15) scale(1.007,1)" text-anchor="end" font-family="Liberation Sans, sans-serif" font-weight="bold" stroke="#000" stroke-width="0.35" stroke-linejoin="round" font-size="12.17" fill="#000">120</text>
<text transform="translate(454.50,28.95) scale(1.007,1)" text-anchor="end" font-family="Liberation Sans, sans-serif" font-weight="bold" stroke="#000" stroke-width="0.35" stroke-linejoin="round" font-size="12.17" fill="#000">140</text>
<rect x="464.40" y="70.00" width="13.3" height="110.70" fill="#000"/>
<line x1="471.05" y1="180.7" x2="471.05" y2="183.7" stroke="#000" stroke-width="1.2"/>
<text transform="translate(474.40,185.30) rotate(-90) scale(1.02,1)" text-anchor="end" font-family="Liberation Sans, sans-serif" font-weight="bold" stroke="#000" stroke-width="0.35" stroke-linejoin="round" font-size="11.6" fill="#000">0</text>
<line x1="491.34" y1="43.90" x2="491.34" y2="67.50" stroke="#222" stroke-width="1.0"/>
<line x1="487.84" y1="43.90" x2="494.84" y2="43.90" stroke="#222" stroke-width="1.0"/>
<rect x="484.69" y="67.50" width="13.3" height="113.20" fill="#000"/>
<line x1="491.34" y1="180.7" x2="491.34" y2="183.7" stroke="#000" stroke-width="1.2"/>
<text transform="translate(494.69,185.30) rotate(-90) scale(1.02,1)" text-anchor="end" font-family="Liberation Sans, sans-serif" font-weight="bold" stroke="#000" stroke-width="0.35" stroke-linejoin="round" font-size="11.6" fill="#000">0.001</text>
<line x1="511.63" y1="60.50" x2="511.63" y2="77.50" stroke="#222" stroke-width="1.0"/>
<line x1="508.13" y1="60.50" x2="515.13" y2="60.50" stroke="#222" stroke-width="1.0"/>
<rect x="504.98" y="77.50" width="13.3" height="103.20" fill="#000"/>
<line x1="511.63" y1="180.7" x2="511.63" y2="183.7" stroke="#000" stroke-width="1.2"/>
<text transform="translate(514.98,185.30) rotate(-90) scale(1.02,1)" text-anchor="end" font-family="Liberation Sans, sans-serif" font-weight="bold" stroke="#000" stroke-width="0.35" stroke-linejoin="round" font-size="11.6" fill="#000">0.003</text>
<line x1="531.92" y1="54.70" x2="531.92" y2="82.60" stroke="#222" stroke-width="1.0"/>
<line x1="528.42" y1="54.70" x2="535.42" y2="54.70" stroke="#222" stroke-width="1.0"/>
<rect x="525.27" y="82.60" width="13.3" height="98.10" fill="#000"/>
<line x1="531.92" y1="180.7" x2="531.92" y2="183.7" stroke="#000" stroke-width="1.2"/>
<text transform="translate(535.27,185.30) rotate(-90) scale(1.02,1)" text-anchor="end" font-family="Liberation Sans, sans-serif" font-weight="bold" stroke="#000" stroke-width="0.35" stroke-linejoin="round" font-size="11.6" fill="#000">0.01</text>
<line x1="552.21" y1="81.80" x2="552.21" y2="92.90" stroke="#222" stroke-width="1.0"/>
<line x1="548.71" y1="81.80" x2="555.71" y2="81.80" stroke="#222" stroke-width="1.0"/>
<rect x="545.56" y="92.90" width="13.3" height="87.80" fill="#000"/>
<line x1="552.21" y1="180.7" x2="552.21" y2="183.7" stroke="#000" stroke-width="1.2"/>
<text transform="translate(555.56,185.30) rotate(-90) scale(1.02,1)" text-anchor="end" font-family="Liberation Sans, sans-serif" font-weight="bold" stroke="#000" stroke-width="0.35" stroke-linejoin="round" font-size="11.6" fill="#000">0.03</text>
<line x1="572.50" y1="50.40" x2="572.50" y2="77.30" stroke="#222" stroke-width="1.0"/>
<line x1="569.00" y1="50.40" x2="576.00" y2="50.40" stroke="#222" stroke-width="1.0"/>
<rect x="565.85" y="77.30" width="13.3" height="103.40" fill="#000"/>
<line x1="572.50" y1="180.7" x2="572.50" y2="183.7" stroke="#000" stroke-width="1.2"/>
<text transform="translate(575.85,185.30) rotate(-90) scale(1.02,1)" text-anchor="end" font-family="Liberation Sans, sans-serif" font-weight="bold" stroke="#000" stroke-width="0.35" stroke-linejoin="round" font-size="11.6" fill="#000">0.1</text>
<line x1="592.80" y1="20.40" x2="592.80" y2="61.40" stroke="#222" stroke-width="1.0"/>
<line x1="589.30" y1="20.40" x2="596.30" y2="20.40" stroke="#222" stroke-width="1.0"/>
<rect x="586.15" y="61.40" width="13.3" height="119.30" fill="#000"/>
<line x1="592.80" y1="180.7" x2="592.80" y2="183.7" stroke="#000" stroke-width="1.2"/>
<text transform="translate(596.15,185.30) rotate(-90) scale(1.02,1)" text-anchor="end" font-family="Liberation Sans, sans-serif" font-weight="bold" stroke="#000" stroke-width="0.35" stroke-linejoin="round" font-size="11.6" fill="#000">0.3</text>
<line x1="613.09" y1="41.40" x2="613.09" y2="76.10" stroke="#222" stroke-width="1.0"/>
<line x1="609.59" y1="41.40" x2="616.59" y2="41.40" stroke="#222" stroke-width="1.0"/>
<rect x="606.44" y="76.10" width="13.3" height="104.60" fill="#000"/>
<line x1="613.09" y1="180.7" x2="613.09" y2="183.7" stroke="#000" stroke-width="1.2"/>
<text transform="translate(616.44,185.30) rotate(-90) scale(1.02,1)" text-anchor="end" font-family="Liberation Sans, sans-serif" font-weight="bold" stroke="#000" stroke-width="0.35" stroke-linejoin="round" font-size="11.6" fill="#000">1</text>
<line x1="633.38" y1="23.80" x2="633.38" y2="67.50" stroke="#222" stroke-width="1.0"/>
<line x1="629.88" y1="23.80" x2="636.88" y2="23.80" stroke="#222" stroke-width="1.0"/>
<rect x="626.73" y="67.50" width="13.3" height="113.20" fill="#000"/>
<line x1="633.38" y1="180.7" x2="633.38" y2="183.7" stroke="#000" stroke-width="1.2"/>
<text transform="translate(636.73,185.30) rotate(-90) scale(1.02,1)" text-anchor="end" font-family="Liberation Sans, sans-serif" font-weight="bold" stroke="#000" stroke-width="0.35" stroke-linejoin="round" font-size="11.6" fill="#000">3</text>
<line x1="653.67" y1="61.20" x2="653.67" y2="94.90" stroke="#222" stroke-width="1.0"/>
<line x1="650.17" y1="61.20" x2="657.17" y2="61.20" stroke="#222" stroke-width="1.0"/>
<rect x="647.02" y="94.90" width="13.3" height="85.80" fill="#000"/>
<line x1="653.67" y1="180.7" x2="653.67" y2="183.7" stroke="#000" stroke-width="1.2"/>
<text transform="translate(657.02,185.30) rotate(-90) scale(1.02,1)" text-anchor="end" font-family="Liberation Sans, sans-serif" font-weight="bold" stroke="#000" stroke-width="0.35" stroke-linejoin="round" font-size="11.6" fill="#000">10</text>
<line x1="673.96" y1="84.10" x2="673.96" y2="102.50" stroke="#222" stroke-width="1.0"/>
<line x1="670.46" y1="84.10" x2="677.46" y2="84.10" stroke="#222" stroke-width="1.0"/>
<rect x="667.31" y="102.50" width="13.3" height="78.20" fill="#000"/>
<line x1="673.96" y1="180.7" x2="673.96" y2="183.7" stroke="#000" stroke-width="1.2"/>
<text transform="translate(677.31,185.30) rotate(-90) scale(1.02,1)" text-anchor="end" font-family="Liberation Sans, sans-serif" font-weight="bold" stroke="#000" stroke-width="0.35" stroke-linejoin="round" font-size="11.6" fill="#000">30</text>
<line x1="694.25" y1="69.40" x2="694.25" y2="101.10" stroke="#222" stroke-width="1.0"/>
<line x1="690.75" y1="69.40" x2="697.75" y2="69.40" stroke="#222" stroke-width="1.0"/>
<rect x="687.60" y="101.10" width="13.3" height="79.60" fill="#000"/>
<line x1="694.25" y1="180.7" x2="694.25" y2="183.7" stroke="#000" stroke-width="1.2"/>
<text transform="translate(697.60,185.30) rotate(-90) scale(1.02,1)" text-anchor="end" font-family="Liberation Sans, sans-serif" font-weight="bold" stroke="#000" stroke-width="0.35" stroke-linejoin="round" font-size="11.6" fill="#000">60</text>
</svg>
</body></html>
